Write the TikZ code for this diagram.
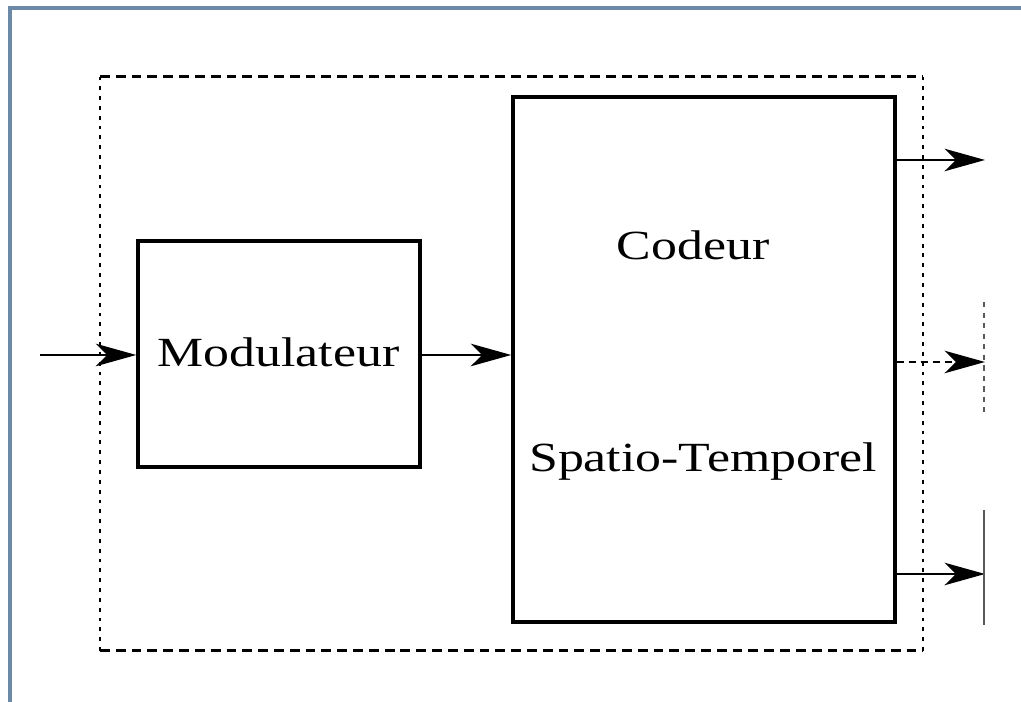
\documentclass[tikz,border=0pt]{standalone}
\usepackage{fontspec}
\setmainfont{Liberation Serif}
\usepackage{tikz}
\usetikzlibrary{arrows.meta}
\definecolor{cadre}{RGB}{108,138,168}

\begin{document}
\begin{tikzpicture}
        \useasboundingbox (0,0) rectangle (10.21,7.02);
        \tikzset{bloc/.style={draw, line width=1pt, inner sep=0pt},
          lbl/.style={anchor=base, inner sep=0pt, xscale=1.25,
            font=\fontsize{11.8}{14}\selectfont},
          fleche/.style={line width=0.7pt, -{Stealth[length=11.5pt, width=6.4pt, inset=3.2pt]}}}
        % cadre
        \draw[cadre, line width=1.15pt] (0.10,0) -- (0.10,6.94) -- (10.21,6.94);
        % boite pointillee
        \draw[line width=0.85pt, dash pattern=on 2.8pt off 1.7pt] (1.00,6.25) -- (9.23,6.25);
        \draw[line width=0.85pt, dash pattern=on 2.8pt off 1.7pt] (1.00,0.51) -- (9.23,0.51);
        \draw[line width=0.85pt, dash pattern=on 1.1pt off 1.7pt] (1.00,0.51) -- (1.00,6.25);
        \draw[line width=0.85pt, dash pattern=on 1.1pt off 1.7pt] (9.23,0.51) -- (9.23,6.25);
        % blocs
        \node[bloc, minimum width=2.82cm, minimum height=2.26cm] (mod) at (2.79,3.48) {};
        \node[bloc, minimum width=3.82cm, minimum height=5.25cm] (codeur) at (7.04,3.425) {};
        \node[lbl] (modtxt) at (2.785,3.35) {Modulateur};
        \node[lbl] (codtxt) at (6.93,4.42) {Codeur};
        \node[lbl] (sttxt) at (7.03,2.30) {Spatio-Temporel};
        % entrees / sorties
        \coordinate (in) at (0.40,3.47);
        \coordinate (out1) at (9.85,5.42);
        \coordinate (out2) at (9.85,3.40);
        \coordinate (out3) at (9.85,1.28);
        \draw[fleche] (in) -- (in -| mod.west);
        \draw[fleche] (mod.east |- in) -- (in -| codeur.west);
        \draw[fleche] (out1 -| codeur.east) -- (out1);
        \draw[fleche, dash pattern=on 2pt off 1.4pt] (out2 -| codeur.east) -- (out2);
        \draw[fleche] (out3 -| codeur.east) -- (out3);
        \draw[gray!70!black, line width=0.4pt, dash pattern=on 1.5pt off 1.5pt] (9.84,4.00) -- (9.84,2.90);
        \draw[gray!70!black, line width=0.4pt] (9.84,1.92) -- (9.84,0.77);
      \end{tikzpicture}
\end{document}
